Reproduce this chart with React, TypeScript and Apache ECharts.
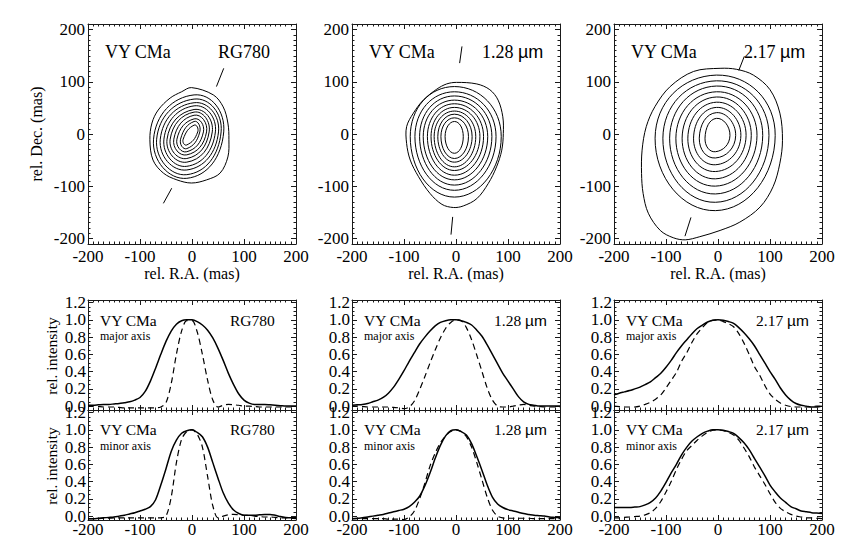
import React, { useEffect, useRef } from 'react';
import * as echarts from 'echarts';

const SERIF = '"Liberation Serif", "Times New Roman", Times, serif';
const SANS = '"Liberation Sans", Arial, sans-serif';

// ---------- Contour panels (rel. R.A., rel. Dec. in mas) ----------
// outermost contours
const rgOuter = [[-1, 89], [41, 75], [60, 52], [69, 21], [71, -11], [69, -44], [54, -75], [28, -88], [-1, -94],
  [-29, -88], [-55, -75], [-75, -50], [-81, -11], [-77, 21], [-65, 46], [-42, 69], [-20, 81]];
const jOuter = [[1, 99], [40, 96], [65, 85], [81, 65], [90, 33], [91, 1], [88, -31], [78, -63], [62, -95], [40, -124],
  [14, -138], [-5, -141], [-27, -135], [-50, -114], [-72, -82], [-88, -50], [-95, -18], [-95, 14], [-82, 40],
  [-63, 65], [-37, 86], [-18, 96]];
const kOuter = [[4, 126], [36, 124], [68, 113], [100, 85], [119, 40], [124, -12], [119, -56], [106, -101], [81, -140],
  [42, -169], [4, -185], [-35, -197], [-63, -203], [-86, -199], [-111, -185], [-134, -152], [-144, -114], [-147, -76],
  [-146, -31], [-138, 14], [-121, 53], [-92, 91], [-47, 120]];

// inner contours: [right, top, left, bottom] extents
const rgRings = [[61, 75, -74, -85], [56, 67, -68, -78], [51, 60, -61, -69], [45, 54, -54, -62], [39, 47, -48, -54],
  [33, 42, -42, -47], [28, 36, -35, -40], [22, 29, -29, -34], [15, 24, -22, -28], [11, 17, -17, -21]];
const jRings = [[87, 91, -88, -121], [77, 81, -79, -108], [69, 73, -70, -98], [61, 65, -63, -88], [53, 58, -55, -79],
  [46, 51, -48, -70], [38, 44, -42, -63], [31, 38, -35, -54], [24, 31, -29, -47], [14, 24, -21, -37]];
const kRings = [[110, 113, -121, -147], [98, 102, -106, -131], [86, 92, -93, -115], [75, 81, -81, -100],
  [64, 71, -69, -86], [54, 61, -58, -72], [44, 51, -47, -59], [34, 41, -36, -46], [23, 30, -25, -34]];
// where each extreme sits: [y of right, x of top, y of left, x of bottom]
const rgRingAxes = [4, 4, -10, -10];
const jRingAxes = [-5, -3, -5, -3];
const kRingAxes = [-3, -3, -8, -5];

// position-angle markers (segments)
const rgMarks = [[[47, 91], [61, 126]], [[-55, -133], [-39, -104]]];
const jMarks = [[[7, 136], [11.5, 168]], [[-9.6, -193], [-6.4, -159]]];
const kMarks = [[[40, 122], [50.6, 149]], [[-63.5, -196], [-52, -160]]];

// ---------- Profiles: rel. intensity sampled at these offsets (mas) ----------
const offsets = [-200, -190, -180, -170, -160, -150, -140, -130, -120, -110, -100, -90, -80, -70, -60, -50, -40, -30, -20, -10,
  0, 10, 20, 30, 40, 50, 60, 70, 80, 90, 100, 110, 120, 130, 140, 150, 160, 170, 180, 190, 200];

const rgMajObs = [0.01, 0.01, 0.015, 0.02, 0.02, 0.025, 0.03, 0.04, 0.05, 0.07, 0.10, 0.17, 0.29, 0.44, 0.60, 0.75, 0.87, 0.95, 0.99, 1.0,
  1.0, 0.98, 0.94, 0.88, 0.79, 0.67, 0.53, 0.38, 0.25, 0.14, 0.07, 0.035, 0.02, 0.02, 0.02, 0.015, 0.01, 0.005, 0.0, 0.0, 0.0];
const rgMajPsf = [0.0, 0.0, -0.005, -0.01, -0.01, -0.01, -0.015, -0.02, -0.02, -0.02, -0.02, -0.02, -0.02, -0.02, -0.01, 0.04, 0.26, 0.60, 0.87, 0.99,
  0.99, 0.86, 0.60, 0.30, 0.07, -0.01, 0.01, 0.02, 0.015, 0.01, 0.0, 0.0, -0.005, -0.01, -0.01, -0.01, -0.01, -0.01, -0.01, -0.01, -0.01];
const rgMinObs = [-0.03, -0.03, -0.025, -0.02, -0.015, -0.01, 0.0, 0.01, 0.025, 0.04, 0.06, 0.08, 0.11, 0.19, 0.36, 0.55, 0.75, 0.88, 0.96, 0.99,
  1.0, 0.97, 0.92, 0.80, 0.62, 0.44, 0.27, 0.15, 0.07, 0.03, 0.01, 0.01, 0.01, 0.015, 0.02, 0.02, 0.01, -0.005, -0.015, -0.02, -0.02];
const rgMinPsf = [-0.03, -0.03, -0.03, -0.025, -0.025, -0.02, -0.02, -0.02, -0.02, -0.02, -0.02, -0.02, -0.02, -0.02, -0.02, 0.0, 0.22, 0.62, 0.89, 0.98,
  1.0, 0.95, 0.80, 0.46, 0.12, -0.02, 0.0, 0.015, 0.02, 0.015, 0.01, 0.01, 0.0, -0.005, -0.01, -0.01, -0.015, -0.02, -0.02, -0.025, -0.03];

const jMajObs = [0.01, 0.015, 0.02, 0.03, 0.05, 0.07, 0.10, 0.15, 0.22, 0.31, 0.41, 0.52, 0.62, 0.72, 0.80, 0.87, 0.93, 0.97, 0.99, 1.0,
  1.0, 0.99, 0.97, 0.94, 0.88, 0.81, 0.71, 0.60, 0.49, 0.38, 0.29, 0.20, 0.11, 0.05, 0.02, 0.01, 0.0, 0.0, 0.0, 0.0, 0.0];
const jMajPsf = [0.0, 0.0, -0.005, -0.01, -0.01, -0.01, -0.01, -0.01, -0.015, -0.02, -0.03, -0.01, 0.06, 0.19, 0.34, 0.50, 0.65, 0.79, 0.90, 0.97,
  1.0, 0.99, 0.91, 0.77, 0.59, 0.40, 0.21, 0.07, 0.0, -0.01, -0.01, 0.0, 0.01, 0.02, 0.01, 0.0, -0.005, -0.01, -0.01, -0.01, -0.01];
const jMinObs = [-0.03, -0.025, -0.02, -0.01, 0.0, 0.01, 0.02, 0.035, 0.05, 0.065, 0.08, 0.11, 0.16, 0.23, 0.35, 0.50, 0.67, 0.82, 0.93, 0.99,
  1.0, 0.98, 0.94, 0.84, 0.69, 0.53, 0.36, 0.22, 0.14, 0.10, 0.075, 0.06, 0.045, 0.03, 0.02, 0.01, 0.005, 0.0, -0.01, -0.015, -0.02];
const jMinPsf = [-0.03, -0.03, -0.03, -0.03, -0.03, -0.03, -0.03, -0.035, -0.035, -0.035, -0.04, -0.01, 0.06, 0.20, 0.38, 0.58, 0.73, 0.85, 0.93, 0.98,
  1.0, 0.98, 0.92, 0.80, 0.62, 0.42, 0.22, 0.07, 0.0, -0.02, -0.025, -0.025, -0.025, -0.025, -0.025, -0.03, -0.03, -0.03, -0.03, -0.03, -0.03];

const kMajObs = [0.13, 0.15, 0.165, 0.18, 0.20, 0.22, 0.25, 0.28, 0.33, 0.38, 0.45, 0.53, 0.62, 0.70, 0.77, 0.84, 0.90, 0.94, 0.975, 0.995,
  1.0, 0.995, 0.98, 0.96, 0.91, 0.85, 0.78, 0.70, 0.60, 0.50, 0.40, 0.31, 0.21, 0.13, 0.07, 0.03, 0.01, 0.0, -0.01, -0.01, 0.0];
const kMajPsf = [0.0, -0.005, -0.01, -0.01, -0.01, 0.0, 0.02, 0.045, 0.08, 0.13, 0.21, 0.30, 0.39, 0.52, 0.62, 0.74, 0.84, 0.91, 0.97, 0.995,
  1.0, 0.98, 0.955, 0.92, 0.84, 0.73, 0.60, 0.46, 0.36, 0.24, 0.14, 0.08, 0.035, 0.01, -0.005, -0.01, -0.01, -0.01, -0.005, 0.0, 0.0];
const kMinObs = [0.10, 0.10, 0.10, 0.10, 0.105, 0.11, 0.13, 0.16, 0.21, 0.29, 0.39, 0.50, 0.60, 0.71, 0.80, 0.87, 0.92, 0.96, 0.985, 1.0,
  1.0, 0.995, 0.98, 0.96, 0.91, 0.85, 0.77, 0.67, 0.57, 0.47, 0.36, 0.28, 0.21, 0.16, 0.11, 0.085, 0.06, 0.05, 0.04, 0.035, 0.03];
const kMinPsf = [-0.02, -0.02, -0.015, -0.01, -0.005, 0.0, 0.015, 0.04, 0.09, 0.17, 0.28, 0.40, 0.54, 0.66, 0.76, 0.82, 0.88, 0.93, 0.97, 0.995,
  1.0, 0.99, 0.97, 0.94, 0.88, 0.79, 0.69, 0.57, 0.47, 0.37, 0.26, 0.16, 0.09, 0.05, 0.02, 0.0, -0.01, -0.02, -0.02, -0.025, -0.03];

// ---------- ticks and labels ----------
const posTicks = [-200, -100, 0, 100, 200];
const intensityTicks = [0, 0.2, 0.4, 0.6, 0.8, 1.0, 1.2];
const bandLabels = ['RG780', '1.28 {u|\u00b5m}', '2.17 {u|\u00b5m}'];

const LEFTS = [88, 352, 614];
const PW = 208;
const TICK_FONT = 17;

function minorsOf(lo: number, hi: number, step: number, majorStep: number) {
  const out: number[] = [];
  const n = Math.round((hi - lo) / step);
  for (let i = 0; i <= n; i++) {
    const v = +(lo + i * step).toFixed(4);
    const r = v / majorStep;
    if (Math.abs(r - Math.round(r)) > 1e-6) out.push(v);
  }
  return out;
}

function axisSet(dim: 'x' | 'y', g: number, min: number, max: number, majors: number[], minors: number[],
  labels: number[] | null, fmt: (v: number) => string, margin: number) {
  const posA = dim === 'x' ? 'bottom' : 'left';
  const posB = dim === 'x' ? 'top' : 'right';
  const base = { type: 'value', gridIndex: g, min, max, splitLine: { show: false }, silent: true };
  const line = { show: true, onZero: false, lineStyle: { color: '#1a1a1a', width: 1 } };
  const noLine = { show: false, onZero: false };
  const tick = (vals: number[], len: number) => ({ show: true, inside: true, length: len, customValues: vals,
    lineStyle: { color: '#1a1a1a', width: 1 } });
  const lbl = labels ? { show: true, customValues: labels, formatter: fmt, margin, color: '#000',
    showMinLabel: true, showMaxLabel: true, hideOverlap: false,
    fontFamily: SERIF, fontSize: TICK_FONT } : { show: false };
  return [
    { ...base, position: posA, axisLine: line, axisTick: tick(majors, 5), axisLabel: lbl },
    { ...base, position: posA, axisLine: noLine, axisTick: tick(minors, 2.5), axisLabel: { show: false } },
    { ...base, position: posB, axisLine: line, axisTick: tick(majors, 5), axisLabel: { show: false } },
    { ...base, position: posB, axisLine: noLine, axisTick: tick(minors, 2.5), axisLabel: { show: false } },
  ];
}

function ringPoints(rings: number[][], c: number[]) {
  return rings.map(([r, t, l, b]) => [[r, c[0]], [c[1], t], [l, c[2]], [c[3], b]]);
}

function smoothFor(n: number) {
  return (4 / 3) * Math.tan(Math.PI / (2 * n)) / Math.sin((2 * Math.PI) / n);
}

function buildOption() {
  const grids: any[] = [];
  const xAxes: any[] = [];
  const yAxes: any[] = [];
  const series: any[] = [];
  const graphics: any[] = [];

  const posMinor = minorsOf(-200, 200, 10, 100);
  const intMinor = minorsOf(0, 1.2, 0.05, 0.2);
  const fmtInt = (v: number) => String(Math.round(v));
  const fmtFloat = (v: number) => (+v).toFixed(1);

  const contours = [
    [rgOuter, ...ringPoints(rgRings, rgRingAxes)],
    [jOuter, ...ringPoints(jRings, jRingAxes)],
    [kOuter, ...ringPoints(kRings, kRingAxes)],
  ];
  const marks = [rgMarks, jMarks, kMarks];

  // contour grids 0..2
  for (let p = 0; p < 3; p++) {
    const g = grids.length;
    grids.push({ left: LEFTS[p], top: 24, width: PW, height: 220, containLabel: false, outerBoundsMode: 'none' });
    xAxes.push(...axisSet('x', g, -200, 200, posTicks, posMinor, posTicks, fmtInt, 4));
    yAxes.push(...axisSet('y', g, -211, 211, posTicks, posMinor, posTicks, fmtInt, 3));
    const list = contours[p];
    series.push({
      type: 'custom', coordinateSystem: 'cartesian2d', xAxisIndex: 4 * g, yAxisIndex: 4 * g, silent: true,
      data: list.map(() => [0, 0]),
      renderItem: (params: any, api: any) => {
        const pts = list[params.dataIndex].map((q: number[]) => api.coord(q));
        return { type: 'polygon', shape: { points: pts, smooth: smoothFor(pts.length) },
          style: { fill: 'none', stroke: '#000', lineWidth: 1 } };
      },
    });
    for (const seg of marks[p]) {
      series.push({ type: 'line', xAxisIndex: 4 * g, yAxisIndex: 4 * g, data: seg, symbol: 'none', silent: true,
        lineStyle: { color: '#000', width: 1 } });
    }
    const L = LEFTS[p];
    graphics.push({ type: 'text', x: L + 17, y: 52, silent: true,
      style: { text: 'VY CMa', fontFamily: SERIF, fontSize: 18, fill: '#000', align: 'left', verticalAlign: 'middle' } });
    graphics.push({ type: 'text', x: L + 130, y: 52, silent: true,
      style: { text: bandLabels[p], fontFamily: SERIF, fontSize: 18, fill: '#000', align: 'left', verticalAlign: 'middle',
        rich: { u: { fontFamily: SANS, fontSize: 18, fill: '#000' } } } });
    graphics.push({ type: 'text', x: L + PW / 2, y: 273, silent: true,
      style: { text: 'rel. R.A. (mas)', fontFamily: SERIF, fontSize: 16, fill: '#000', align: 'center', verticalAlign: 'middle' } });
  }

  // profile grids
  const profiles = [
    [rgMajObs, rgMajPsf], [jMajObs, jMajPsf], [kMajObs, kMajPsf],
    [rgMinObs, rgMinPsf], [jMinObs, jMinPsf], [kMinObs, kMinPsf],
  ];
  const pair = (vals: number[]) => offsets.map((x, i) => [x, vals[i]]);
  for (let i = 0; i < 6; i++) {
    const row = Math.floor(i / 3);
    const p = i % 3;
    const g = grids.length;
    const top = row === 0 ? 300 : 410;
    grids.push({ left: LEFTS[p], top, width: PW, height: 110, containLabel: false, outerBoundsMode: 'none' });
    xAxes.push(...axisSet('x', g, -200, 200, posTicks, posMinor, row === 1 ? posTicks : null, fmtInt, 1));
    yAxes.push(...axisSet('y', g, -0.045, 1.23, intensityTicks, intMinor, intensityTicks, fmtFloat, 2));
    const [obs, psf] = profiles[i];
    series.push({ type: 'line', xAxisIndex: 4 * g, yAxisIndex: 4 * g, data: pair(obs), symbol: 'none', silent: true,
      smooth: 0.3, lineStyle: { color: '#000', width: 1.5 }, z: 4 });
    series.push({ type: 'line', xAxisIndex: 4 * g, yAxisIndex: 4 * g, data: pair(psf), symbol: 'none', silent: true,
      smooth: 0.3, lineStyle: { color: '#000', width: 1.2, type: [6, 4] }, z: 3 });
    const L = LEFTS[p];
    const cy = row === 0 ? 320 : 429.5;
    graphics.push({ type: 'text', x: L + 12, y: cy, silent: true,
      style: { text: 'VY CMa', fontFamily: SERIF, fontSize: 15.5, fill: '#000', align: 'left', verticalAlign: 'middle' } });
    graphics.push({ type: 'text', x: L + 12, y: row === 0 ? 335.5 : 446, silent: true,
      style: { text: row === 0 ? 'major axis' : 'minor axis', fontFamily: SERIF, fontSize: 12, fill: '#000',
        align: 'left', verticalAlign: 'middle' } });
    graphics.push({ type: 'text', x: L + 142, y: cy, silent: true,
      style: { text: bandLabels[p], fontFamily: SERIF, fontSize: 15.5, fill: '#000', align: 'left', verticalAlign: 'middle',
        rich: { u: { fontFamily: SANS, fontSize: 15.5, fill: '#000' } } } });
  }

  graphics.push({ type: 'text', x: 36, y: 134, rotation: Math.PI / 2, silent: true,
    style: { text: 'rel. Dec. (mas)', fontFamily: SERIF, fontSize: 16, fill: '#000', align: 'center', verticalAlign: 'middle' } });
  for (const cy of [356, 466]) {
    graphics.push({ type: 'text', x: 51, y: cy, rotation: Math.PI / 2, silent: true,
      style: { text: 'rel. intensity', fontFamily: SERIF, fontSize: 15.5, fill: '#000', align: 'center', verticalAlign: 'middle' } });
  }

  return {
    animation: false,
    backgroundColor: '#ffffff',
    textStyle: { fontFamily: SERIF },
    grid: grids,
    xAxis: xAxes,
    yAxis: yAxes,
    series,
    graphic: graphics,
  };
}

export default function App() {
  const ref = useRef<HTMLDivElement | null>(null);
  useEffect(() => {
    if (!ref.current) return;
    const chart = echarts.init(ref.current, undefined, { renderer: 'svg' });
    chart.setOption(buildOption() as any);
    return () => chart.dispose();
  }, []);
  return (
    <div
      ref={ref}
      style={{ position: 'absolute', left: 0, top: 0, width: 847, height: 543, background: '#fff' }}
    />
  );
}
